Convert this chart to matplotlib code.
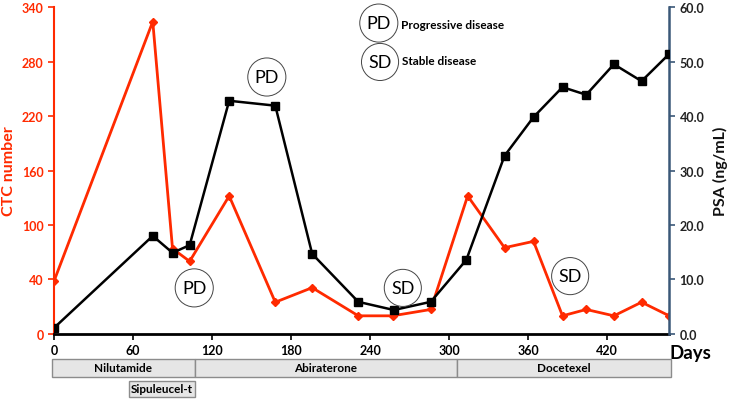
import matplotlib
matplotlib.use("Agg")
import matplotlib.pyplot as plt

plt.rcParams['font.family'] = ['Lato', 'DejaVu Sans']

# CTC series (left axis)
ctc_days = [0, 75, 90, 103, 133, 168, 196, 231, 257, 286, 314, 342, 364, 386, 404, 425, 446, 467]
ctc_vals = [38, 324, 74, 60, 132, 15, 31, 0, 0, 7, 132, 75, 82, 0, 7, 0, 15, 0]

# PSA series (right axis)
psa_days = [0, 75, 90, 103, 133, 168, 196, 231, 258, 286, 313, 342, 364, 386, 404, 425, 446, 467]
psa_vals = [1.1, 18.0, 14.9, 16.3, 42.8, 41.9, 14.7, 5.9, 4.4, 5.9, 13.6, 32.7, 39.8, 45.3, 43.9, 49.5, 46.4, 51.4]

ctc_ticks = [-20, 40, 100, 160, 220, 280, 340]
ctc_labels = ['0', '40', '100', '160', '220', '280', '340']
psa_ticks = [0, 10, 20, 30, 40, 50, 60]
day_ticks = [0, 60, 120, 180, 240, 300, 360, 420]

# treatments: (name, start, end, row)
treatments = [('Nilutamide', -1.5, 107, 0), ('Abiraterone', 107, 306, 0),
              ('Docetexel', 306, 468, 0), ('Sipuleucel-t', 57, 107, 1)]

red = '#ff2a00'
navy = '#3b5878'

fig = plt.figure(figsize=(7.29, 4.02), dpi=100)
ax = fig.add_axes([0.074, 0.1667, 0.844, 0.8133])
ax2 = ax.twinx()

ax.plot(ctc_days, ctc_vals, color=red, lw=2, marker='D', ms=4.5, zorder=3)
ax2.plot(psa_days, psa_vals, color='black', lw=1.8, marker='s', ms=5.5, zorder=3)

ax.set_xlim(0, 467)
ax.set_ylim(-20, 340)
ax2.set_ylim(0, 60)
ax.set_xticks(day_ticks)
ax.set_yticks(ctc_ticks)
ax.set_yticklabels(ctc_labels)
ax2.set_yticks(psa_ticks)
ax2.set_yticklabels(['%.1f' % v for v in psa_ticks])

for s in ['top', 'right']:
    ax.spines[s].set_visible(False)
ax2.spines['top'].set_visible(False)
ax2.spines['left'].set_visible(False)
ax2.spines['bottom'].set_visible(False)
ax.spines['left'].set_color(red)
ax.spines['left'].set_linewidth(1.5)
ax.spines['bottom'].set_linewidth(2)
ax2.spines['right'].set_color(navy)
ax2.spines['right'].set_linewidth(1.8)

ax.tick_params(axis='y', colors=red, labelsize=9, width=1.2, length=4)
ax.tick_params(axis='x', labelsize=9, width=1.2, length=4)
ax2.tick_params(axis='y', colors=navy, labelcolor='#222222', labelsize=9, width=1.2, length=4)
for lab in ax.get_xticklabels() + ax.get_yticklabels() + ax2.get_yticklabels():
    lab.set_fontweight('bold')

ax.set_ylabel('CTC number', color=red, fontsize=11.5, fontweight='bold', labelpad=4)
ax2.set_ylabel('PSA (ng/mL)', color='#111111', fontsize=11.5, fontweight='bold', labelpad=6)
ax.text(1.0, -0.03, 'Days', transform=ax.transAxes, fontsize=13.5, fontweight='bold',
        ha='left', va='top')

circ = dict(boxstyle='circle,pad=0.38', fc='white', ec='#444444', lw=0.7)
marks = [('PD', 0.346, 0.786), ('PD', 0.228, 0.141), ('SD', 0.567, 0.141),
         ('SD', 0.839, 0.177), ('PD', 0.528, 0.951), ('SD', 0.530, 0.832)]
for txt, x, y in marks:
    ax2.text(x, y, txt, transform=ax.transAxes, fontsize=13, ha='center', va='center',
             bbox=circ, zorder=5)
ax2.text(0.564, 0.948, 'Progressive disease', transform=ax.transAxes, fontsize=8.5,
         fontweight='bold', va='center')
ax2.text(0.566, 0.836, 'Stable disease', transform=ax.transAxes, fontsize=8.5,
         fontweight='bold', va='center')

# treatment bars
bx = fig.add_axes([0.074, 0.01, 0.844, 0.0945])
bx.set_xlim(0, 467)
bx.set_ylim(0, 38)
bx.axis('off')
for name, start, end, row in treatments:
    y0, h = (20, 18) if row == 0 else (0, 16)
    bx.bar(start, h, width=end - start, bottom=y0, align='edge', color='#e6e6e6',
           edgecolor='#8c8c8c', lw=1, clip_on=False)
    bx.text((start + end) / 2, y0 + h / 2, name, ha='center', va='center',
            fontsize=8.5, fontweight='bold', clip_on=False)

fig.savefig('out.png', dpi=100)
